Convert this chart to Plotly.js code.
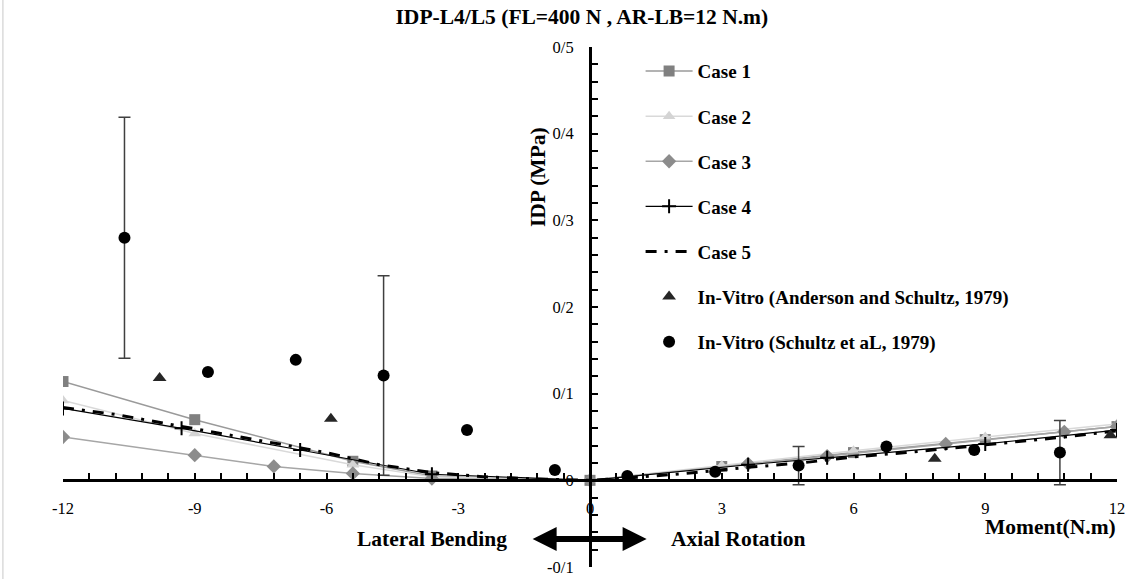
<!DOCTYPE html>
<html><head><meta charset="utf-8">
<script src="https://cdn.plot.ly/plotly-3.0.1.min.js"></script>
<style>html,body{margin:0;padding:0;background:#fff}</style>
</head><body><div id="chart" style="width:1132px;height:579px"></div>
<script>
// ---- data ----
const case1X = [-12, -9, -5.4, -3.6, 0, 3, 6, 9, 12];
const case1Y = [0.114, 0.070, 0.022, 0.005, 0, 0.016, 0.032, 0.047, 0.062];
const case2X = [-12, -9, -5.4, -3.6, 0, 3, 6, 9, 12];
const case2Y = [0.092, 0.054, 0.018, 0.004, 0, 0.017, 0.034, 0.050, 0.065];
const case3X = [-12, -9, -7.2, -5.4, -3.6, 0, 3.6, 5.4, 8.1, 10.8, 12];
const case3Y = [0.050, 0.029, 0.016, 0.008, 0.002, 0, 0.019, 0.028, 0.042, 0.056, 0.062];
const case4X = [-12, -9.3, -6.6, -3.6, 0, 3.6, 5.4, 9, 12];
const case4Y = [0.083, 0.060, 0.035, 0.007, 0, 0.018, 0.026, 0.042, 0.058];
const case5X = [-12, -10.8, -9.6, -8.4, -7.2, -6, -4.8, -3.6, -2.4, -1.2, 0, 1.2, 2.4, 3.6, 4.8, 6, 7.2, 8.4, 9.6, 10.8, 12];
const case5Y = [0.084, 0.076, 0.065, 0.054, 0.043, 0.032, 0.018, 0.009, 0.004, 0.0015, 0, 0.004, 0.009, 0.015, 0.020, 0.027, 0.032, 0.038, 0.044, 0.050, 0.057];
const andersonX = [-9.8, -5.9, 7.85, 11.85];
const andersonY = [0.118, 0.071, 0.025, 0.052];
const schultzX = [-10.6, -8.7, -6.7, -4.7, -2.8, -0.8, 0.85, 2.85, 4.75, 6.75, 8.75, 10.7];
const schultzY = [0.280, 0.125, 0.139, 0.121, 0.058, 0.012, 0.005, 0.010, 0.017, 0.039, 0.035, 0.032];
const schultzErr = [0.139, null, null, 0.115, null, null, null, null, 0.022, null, null, 0.037];

const xTickVals = [-12, -9, -6, -3, 0, 3, 6, 9, 12];
const xTickText = ['-12', '-9', '-6', '-3', '0', '3', '6', '9', '12'];
const yTickVals = [-0.1, 0, 0.1, 0.2, 0.3, 0.4, 0.5];
const yTickText = ['-0/1', '0', '0/1', '0/2', '0/3', '0/4', '0/5'];

const titleText = 'IDP-L4/L5 (FL=400 N , AR-LB=12 N.m)';
const names = ['Case 1', 'Case 2', 'Case 3', 'Case 4', 'Case 5',
  'In-Vitro (Anderson and Schultz, 1979)', 'In-Vitro (Schultz et aL, 1979)'];

// ---- styles ----
const SERIF = 'Liberation Serif, Times New Roman, serif';

const traces = [
  {x: case1X, y: case1Y, name: names[0], mode: 'lines+markers', legendgroup: 'g1',
   line: {color: '#9a9a9a', width: 1.5}, marker: {symbol: 'square', size: 11, color: '#808080'}},
  {x: case2X, y: case2Y, name: names[1], mode: 'lines+markers', legendgroup: 'g2',
   line: {color: '#d9d9d9', width: 1.5}, marker: {symbol: 'triangle-up', size: 11, color: '#d4d4d4'}},
  {x: case3X, y: case3Y, name: names[2], mode: 'lines+markers', legendgroup: 'g3',
   line: {color: '#a6a6a6', width: 1.5}, marker: {symbol: 'diamond', size: 11, color: '#8c8c8c'}},
  {x: case4X, y: case4Y, name: names[3], mode: 'lines+markers', legendgroup: 'g4',
   line: {color: '#000000', width: 1.2}, marker: {symbol: 'cross-thin', size: 10, line: {color: '#000', width: 2}}},
  {x: case5X, y: case5Y, name: names[4], mode: 'lines', legendgroup: 'g5',
   line: {color: '#000000', width: 3, dash: '11px,8px,3px,8px'}},
  {x: andersonX, y: andersonY, name: names[5], mode: 'markers', legendgroup: 'g6',
   marker: {symbol: 'triangle-up', size: 12, color: '#262626'}},
  {x: schultzX, y: schultzY, name: names[6], mode: 'markers', legendgroup: 'g7',
   marker: {symbol: 'circle', size: 12, color: '#000000'},
   error_y: {type: 'data', array: schultzErr.map(v => v === null ? NaN : v), visible: true,
             color: '#404040', thickness: 1.5, width: 6}}
];

const layout = {
  width: 1132, height: 579, autosize: false,
  margin: {l: 63, r: 15, t: 47, b: 12},
  paper_bgcolor: '#ffffff', plot_bgcolor: '#ffffff',
  font: {family: SERIF, color: '#000'},
  title: {text: titleText, font: {family: SERIF, size: 21.5, weight: 'bold', color: '#000'},
          xref: 'container', x: 0.514, xanchor: 'center', yref: 'container', y: 0.972, yanchor: 'middle'},
  showlegend: true,
  legend: {x: 0.548, xanchor: 'left', y: 0.99, yanchor: 'top', traceorder: 'grouped',
           tracegroupgap: 17.4, itemwidth: 47, bgcolor: 'rgba(0,0,0,0)',
           font: {family: SERIF, size: 19, weight: 'bold', color: '#000'}},
  xaxis: {range: [-12, 12], domain: [0, 1], anchor: 'free', position: 1 / 6,
          showline: true, linecolor: '#000', linewidth: 2.5, mirror: false,
          ticks: 'inside', ticklen: 6, tickwidth: 2, tickcolor: '#000',
          tickmode: 'array', tickvals: xTickVals, ticktext: xTickText, ticklabelstandoff: 12,
          tickfont: {family: SERIF, size: 16.5, color: '#000'},
          minor: {tick0: -12, dtick: 0.6, ticks: 'inside', ticklen: 6, tickwidth: 2, tickcolor: '#000', showgrid: false},
          showgrid: false, zeroline: false, fixedrange: true},
  yaxis: {range: [-0.1, 0.5], domain: [0, 1], anchor: 'free', position: 0.5,
          showline: true, linecolor: '#000', linewidth: 2.5,
          ticks: 'inside', ticklen: 6, tickwidth: 2, tickcolor: '#000',
          tickmode: 'array', tickvals: yTickVals, ticktext: yTickText, ticklabelstandoff: 12,
          tickfont: {family: SERIF, size: 16.5, color: '#000'},
          minor: {tick0: -0.1, dtick: 0.02, ticks: 'inside', ticklen: 6, tickwidth: 2, tickcolor: '#000', showgrid: false},
          showgrid: false, zeroline: false, fixedrange: true},
  annotations: [
    {text: 'IDP (MPa)', xref: 'paper', yref: 'paper', x: 0.4507, y: 0.85, showarrow: false,
     textangle: -90, font: {family: SERIF, size: 21.5, weight: 'bold', color: '#000'}},
    {text: 'Lateral Bending', xref: 'x', yref: 'y', x: -3.6, y: -0.0676, showarrow: false,
     font: {family: SERIF, size: 21.5, weight: 'bold', color: '#000'}},
    {text: 'Axial Rotation', xref: 'x', yref: 'y', x: 3.36, y: -0.0676, showarrow: false,
     font: {family: SERIF, size: 21.5, weight: 'bold', color: '#000'}},
    {text: 'Moment(N.m)', xref: 'x', yref: 'y', x: 10.49, y: -0.0534, showarrow: false,
     font: {family: SERIF, size: 21.5, weight: 'bold', color: '#000'}},
    {text: '', xref: 'x', yref: 'y', x: 1.29, y: -0.0676, axref: 'x', ayref: 'y', ax: -1.34, ay: -0.0676,
     showarrow: true, arrowside: 'end+start', arrowhead: 2, arrowsize: 0.8, arrowwidth: 6, arrowcolor: '#000',
     standoff: 0, startstandoff: 0}
  ],
  shapes: [
    {type: 'line', xref: 'paper', yref: 'paper', x0: -0.057, x1: -0.057, y0: -0.03, y1: 1.1,
     line: {color: '#c8c8c8', width: 1}}
  ]
};

Plotly.newPlot('chart', traces, layout, {displayModeBar: false, staticPlot: true});
</script>
</body></html>
